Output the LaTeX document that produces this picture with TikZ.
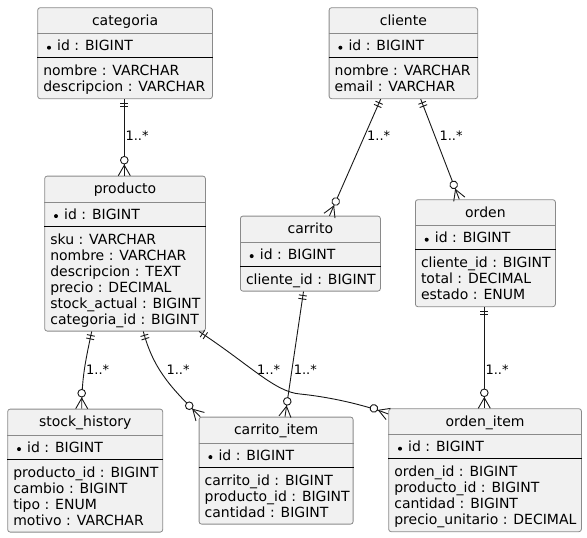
\documentclass[tikz,border=0pt]{standalone}
\usepackage{fontspec}
\setmainfont{DejaVu Sans}
\usepackage{xcolor}
\usepackage{tikz}
\usetikzlibrary{calc}
\usetikzlibrary{decorations.markings}
\definecolor{fondo}{HTML}{F1F1F1}
\definecolor{borde}{HTML}{181818}
\definecolor{marco}{HTML}{8A8A8A}
\tikzset{ entidad/.style = {rectangle, rounded corners=2.5pt, draw=marco, fill=fondo, line width=0.8pt, inner sep=0pt} }
\tikzset{ campo/.style = {inner sep=0pt, font=\fontsize{14}{16}\selectfont} }
\tikzset{ card/.style = {inner sep=0pt, anchor=base west, font=\fontsize{13}{15}\selectfont} }
\tikzset{ rel/.style = {draw=borde, line width=0.9pt} }
\tikzset{ uno/.style = {postaction={decorate, decoration={markings,
    mark=at position 4pt with {\draw[borde, line width=0.9pt] (0pt,-4pt) -- (0pt,4pt);},
    mark=at position 7.5pt with {\draw[borde, line width=0.9pt] (0pt,-4pt) -- (0pt,4pt);}}}} }
\tikzset{ muchos/.style = {postaction={decorate, decoration={markings,
    mark=at position 1 with {\draw[borde, line width=0.9pt] (-10.5pt,0pt) -- (0pt,6pt) (-10.5pt,0pt) -- (0pt,-6pt);
      \draw[borde, line width=0.9pt, fill=white] (-15.5pt,0pt) circle (3.8pt);}}}} }

% #1 name, #2 top left, #3 width, #4 attribute lines, #5 title, #6 key, #7 attributes
\newcommand{\entidad}[7]{%
  \node[entidad, minimum width=#3pt, minimum height={59pt+16pt*#4}, anchor=north west] (#1) at #2 {};
  \draw[marco, line width=0.8pt] ($(#1.north west)+(0,26.3)$) -- ($(#1.north east)+(0,26.3)$);
  \draw[black, line width=1pt] ($(#1.north west)+(0,50.5)$) -- ($(#1.north east)+(0,50.5)$);
  \node[campo, anchor=base] (#1-t) at ($(#1.north)+(0,18)$) {#5};
  \fill[black] ($(#1.north west)+(11.7,40.4)$) circle (2pt);
  \node[campo, anchor=base west] (#1-k) at ($(#1.north west)+(19.7,43.4)$) {#6};
  \foreach \txt [count=\i] in {#7}
    \node[campo, anchor=base west] (#1-a\i) at ($(#1.north west)+(5.8,52.4+16*\i)$) {\txt};
}

\begin{document}
\begin{tikzpicture}[x=1pt, y=-1pt]
  \useasboundingbox (0,0) rectangle (587,538);

  \entidad{categoria}{(37.3,7.3)}{174.7}{2}{categoria}{id : BIGINT}{nombre : VARCHAR, descripcion : VARCHAR}
  \entidad{cliente}{(328.7,7.3)}{148.6}{2}{cliente}{id : BIGINT}{nombre : VARCHAR, email : VARCHAR}
  \entidad{producto}{(44.3,175.7)}{160.7}{6}{producto}{id : BIGINT}{sku : VARCHAR, nombre : VARCHAR, descripcion : TEXT, precio : DECIMAL, stock\_actual : BIGINT, categoria\_id : BIGINT}
  \entidad{carrito}{(240,215.7)}{140}{1}{carrito}{id : BIGINT}{cliente\_id : BIGINT}
  \entidad{orden}{(415,199.3)}{140}{3}{orden}{id : BIGINT}{cliente\_id : BIGINT, total : DECIMAL, estado : ENUM}
  \entidad{stockhist}{(7.3,408.7)}{155}{4}{stock\_history}{id : BIGINT}{producto\_id : BIGINT, cambio : BIGINT, tipo : ENUM, motivo : VARCHAR}
  \entidad{carritoitem}{(198.7,416.7)}{154}{3}{carrito\_item}{id : BIGINT}{carrito\_id : BIGINT, producto\_id : BIGINT, cantidad : BIGINT}
  \entidad{ordenitem}{(388.3,408.3)}{192.7}{4}{orden\_item}{id : BIGINT}{orden\_id : BIGINT, producto\_id : BIGINT, cantidad : BIGINT, precio\_unitario : DECIMAL}

  % relaciones
  \draw[rel, uno, muchos] ($(categoria.south west)+(87,0)$) -- ($(producto.north west)+(80,0)$);
  \draw[rel, uno, muchos] ($(cliente.south west)+(52,0)$) -- ($(carrito.north west)+(89.5,0)$);
  \draw[rel, uno, muchos] ($(cliente.south west)+(92,0)$) -- ($(orden.north west)+(44.3,0)$);
  \draw[rel, uno, muchos] ($(producto.south west)+(47.4,0)$) to[out=258, in=90] ($(stockhist.north west)+(74.4,0)$);
  \draw[rel, uno, muchos] ($(producto.south west)+(99,0)$) to[out=285, in=135] ($(carritoitem.north west)+(1.5,0)$);
  \draw[rel, uno, muchos] ($(producto.south east)+(-6.7,0)$) .. controls (250,365) and (275,392) .. (300,394)
    .. controls (330,397) and (365,405) .. ($(ordenitem.north west)+(0,5.7)$);
  \draw[rel, uno, muchos] ($(carrito.south west)+(63.5,0)$) -- ($(carritoitem.north west)+(86.3,0)$);
  \draw[rel, uno, muchos] ($(orden.south west)+(69.3,0)$) -- ($(ordenitem.north west)+(96,0)$);

  \node[card] (m1) at (125.3,140.3) {1..*};
  \node[card] (m2) at (366.9,140.3) {1..*};
  \node[card] (m3) at (439.3,140.3) {1..*};
  \node[card] (m4) at (85.9,374.3) {1..*};
  \node[card] (m5) at (166.3,374.3) {1..*};
  \node[card] (m6) at (256.9,374.3) {1..*};
  \node[card] (m7) at (293.6,374.3) {1..*};
  \node[card] (m8) at (485.3,374.3) {1..*};
\end{tikzpicture}
\end{document}
